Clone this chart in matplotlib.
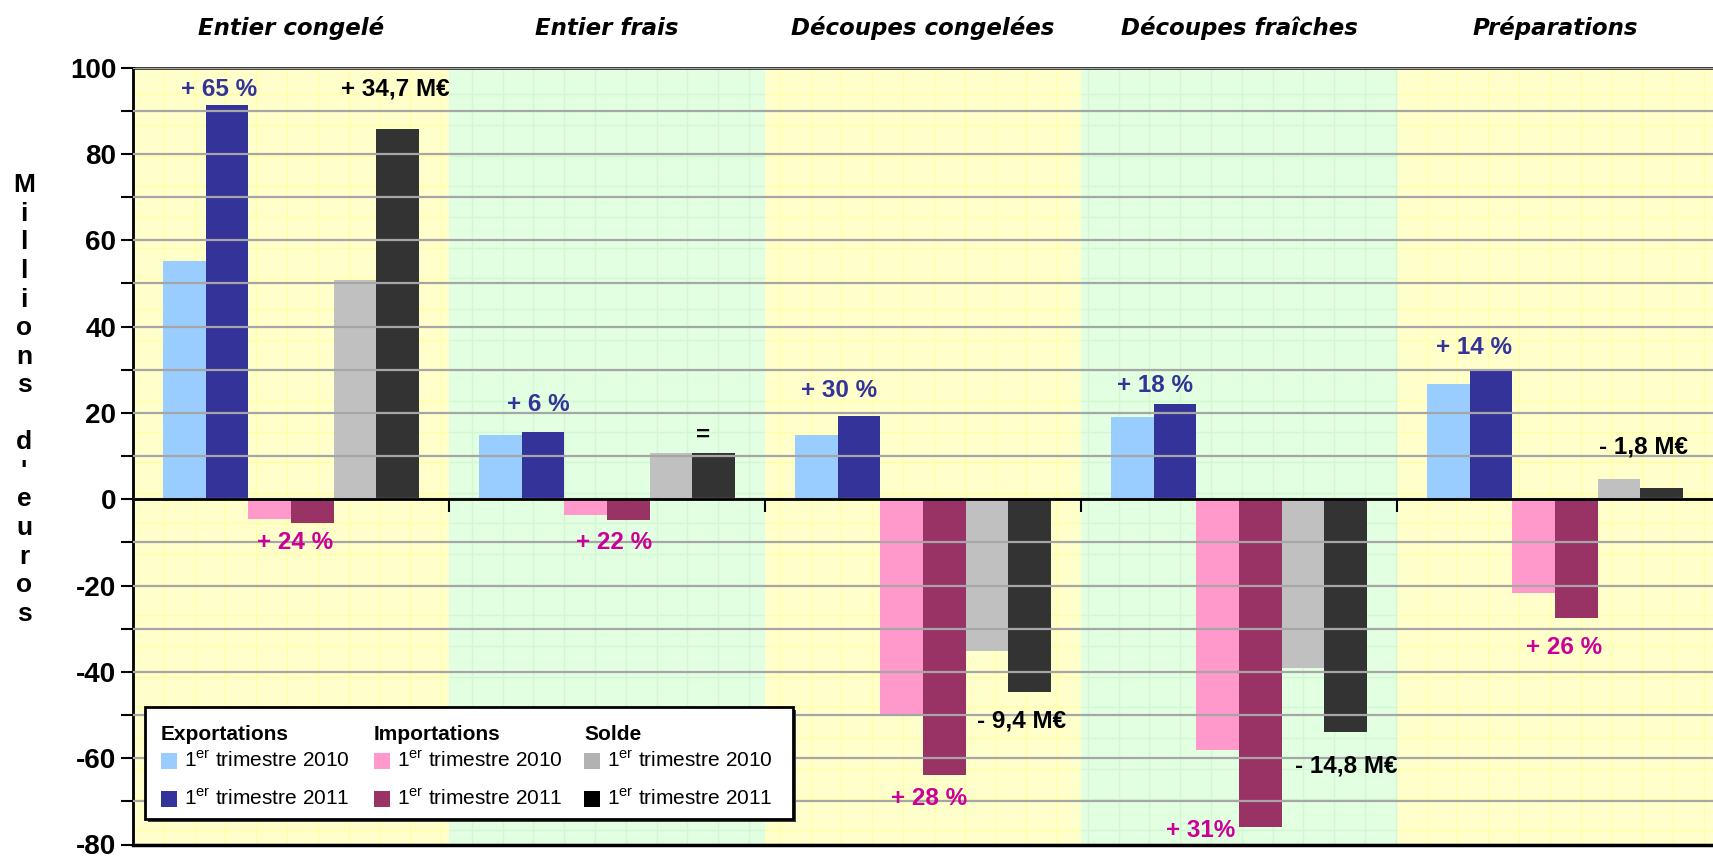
import matplotlib
matplotlib.use("Agg")
import matplotlib.pyplot as plt
import numpy as np
from matplotlib.patches import Rectangle
from matplotlib.ticker import MultipleLocator

plt.rcParams['font.family'] = ['Liberation Sans', 'DejaVu Sans']
plt.rcParams['mathtext.fontset'] = 'custom'
plt.rcParams['mathtext.rm'] = 'Liberation Sans'
plt.rcParams['mathtext.it'] = 'Liberation Sans:italic'
plt.rcParams['mathtext.bf'] = 'Liberation Sans:bold'
plt.rcParams['axes.unicode_minus'] = False

# ---------------- data ----------------
categories = ["Entier congelé", "Entier frais", "Découpes congelées",
              "Découpes fraîches", "Préparations"]
export_2010 = [55.3, 14.9, 14.9, 19.1, 26.6]
export_2011 = [91.3, 15.7, 19.3, 22.0, 30.1]
import_2010 = [-4.6, -3.7, -49.9, -58.2, -21.7]
import_2011 = [-5.6, -4.7, -63.9, -75.9, -27.5]
solde_2010 = [50.7, 10.8, -35.1, -39.2, 4.6]
solde_2011 = [85.9, 10.8, -44.6, -53.9, 2.7]

series_names = ["Exportations", "Importations", "Solde"]
period_labels = [r"1$^{\rm er}$ trimestre 2010", r"1$^{\rm er}$ trimestre 2011"]

# annotations: (text, category index, x offset in group units, y value, colour key)
ann_texts = ["+ 65 %", "+ 34,7 M€", "+ 24 %",
             "+ 6 %", "=", "+ 22 %",
             "+ 30 %", "- 9,4 M€", "+ 28 %",
             "+ 18 %", "- 14,8 M€", "+ 31%",
             "+ 14 %", "- 1,8 M€", "+ 26 %"]
ann_cat = [0, 0, 0, 1, 1, 1, 2, 2, 2, 3, 3, 3, 4, 4, 4]
ann_dx = [-0.228, 0.331, 0.014, -0.217, 0.303, 0.021, -0.267, 0.312, 0.019,
          -0.266, 0.338, -0.121, -0.257, 0.281, 0.029]
ann_y = [95.0, 95.0, -10.1, 22.0, 14.9, -10.1, 25.1, -51.4, -69.4,
         26.3, -61.8, -76.7, 35.2, 12.2, -34.4]
ann_kind = ["exp", "solde", "imp", "exp", "solde", "imp", "exp", "solde", "imp",
            "exp", "solde", "imp", "exp", "solde", "imp"]

# ---------------- style ----------------
W, H = 1713, 856
bar_colors = ["#99CCFF", "#333399", "#FF99CC", "#993366", "#C0C0C0", "#333333"]
legend_colors = ["#99CCFF", "#333399", "#FF99CC", "#993366", "#B2B2B2", "#000000"]
ann_colors = {"exp": "#333399", "imp": "#CC0099", "solde": "#000000"}
band_colors = ["#FFFFCC", "#E2FFE2"]
band_line_colors = ["#FFFFA6", "#D2F8D2"]

fig = plt.figure(figsize=(W / 100, H / 100), dpi=100)
ax_left, ax_right, ax_top, ax_bot = 133, 1713, 67.7, 844.5
ax = fig.add_axes([ax_left / W, (H - ax_bot) / H, (ax_right - ax_left) / W,
                   (ax_bot - ax_top) / H])

n = len(categories)
x = np.arange(n)
ax.set_xlim(-0.5, n - 0.5)
ax.set_ylim(-80, 100)

# background bands + texture
tex_dx = 30.8 / ((ax_right - ax_left) / n)
tex_x = np.arange(-0.5, n - 0.5, tex_dx)
tex_y = np.arange(93.8, -80, -7.1)
for i in range(n):
    ax.axvspan(i - 0.5, i + 0.5, color=band_colors[i % 2], zorder=0, lw=0)
    xs = tex_x[(tex_x > i - 0.5) & (tex_x < i + 0.5)]
    ax.vlines(xs, -80, 100, color=band_line_colors[i % 2], lw=1, zorder=0.5)
    ax.hlines(tex_y, i - 0.5, i + 0.5, color=band_line_colors[i % 2], lw=1, zorder=0.5)

# bars
bw = 0.1345
all_series = [export_2010, export_2011, import_2010, import_2011, solde_2010, solde_2011]
for k, vals in enumerate(all_series):
    ax.bar(x + (k - 2.5) * bw, vals, width=bw, color=bar_colors[k], lw=0, zorder=2)

# y axis
ax.yaxis.set_major_locator(MultipleLocator(20))
ax.yaxis.set_minor_locator(MultipleLocator(10))
ax.grid(axis='y', which='both', color='#A6A6A6', lw=1.6, zorder=1)
ax.set_axisbelow(False)
ax.tick_params(axis='y', which='both', direction='out', length=9, width=1.5,
               colors='black', pad=3)
ax.tick_params(axis='y', which='major', labelsize=20)
for lab in ax.get_yticklabels():
    lab.set_fontweight('bold')

# x axis: spine at zero, ticks at group boundaries
ax.spines['bottom'].set_position(('data', 0))
ax.spines['bottom'].set_linewidth(2)
ax.spines['bottom'].set_zorder(3)
ax.set_xticks(np.arange(n - 1) + 0.5)
ax.set_xticklabels([])
ax.tick_params(axis='x', direction='out', length=9, width=1.5)
ax.spines['left'].set_linewidth(2)
ax.spines['top'].set_linewidth(1.8)
ax.spines['right'].set_visible(False)
ax.axhline(-80, color='black', lw=2.5, zorder=3, clip_on=False)

# category titles on top
for i, c in enumerate(categories):
    ax.text(i, 1.051, c, transform=ax.get_xaxis_transform(), ha='center', va='center',
            fontsize=16.5, fontweight='bold', fontstyle='italic', family='DejaVu Sans')

# annotations
for t, ci, dx, yv, kind in zip(ann_texts, ann_cat, ann_dx, ann_y, ann_kind):
    ax.text(ci + dx, yv, t, ha='center', va='center', fontsize=17.5, fontweight='bold',
            color=ann_colors[kind], zorder=4)

# y label (stacked letters)
fig.text(24 / W, 1 - 399.5 / H, "\n".join("Millions d'euros"), ha='center', va='center',
         fontsize=19, fontweight='bold', linespacing=1.24)

# legend (manual, three columns)
def fx(px):
    return px / W

def fy(py):
    return 1 - py / H

lx0, ly0, lx1, ly1 = 145, 707, 793, 819
fig.patches.append(Rectangle((fx(lx0 + 3), fy(ly1 + 3)), fx(lx1 - lx0), (ly1 - ly0) / H,
                             transform=fig.transFigure, facecolor='#404040', edgecolor='none',
                             zorder=5))
fig.patches.append(Rectangle((fx(lx0), fy(ly1)), fx(lx1 - lx0), (ly1 - ly0) / H,
                             transform=fig.transFigure, facecolor='white', edgecolor='black',
                             lw=2, zorder=6))
col_x = [161, 374, 584]
row_y = [761, 799]
for j, name in enumerate(series_names):
    fig.text(fx(col_x[j]), fy(735), name, ha='left', va='center', fontsize=15,
             fontweight='bold', zorder=7)
    for r in range(2):
        fig.patches.append(Rectangle((fx(col_x[j]), fy(row_y[r] + 8)), fx(16), 16 / H,
                                     transform=fig.transFigure,
                                     facecolor=legend_colors[2 * j + r], edgecolor='none',
                                     zorder=7))
        fig.text(fx(col_x[j] + 23), fy(row_y[r]), period_labels[r], ha='left', va='center',
                 fontsize=15, zorder=7)

fig.savefig("out.png", dpi=100)
